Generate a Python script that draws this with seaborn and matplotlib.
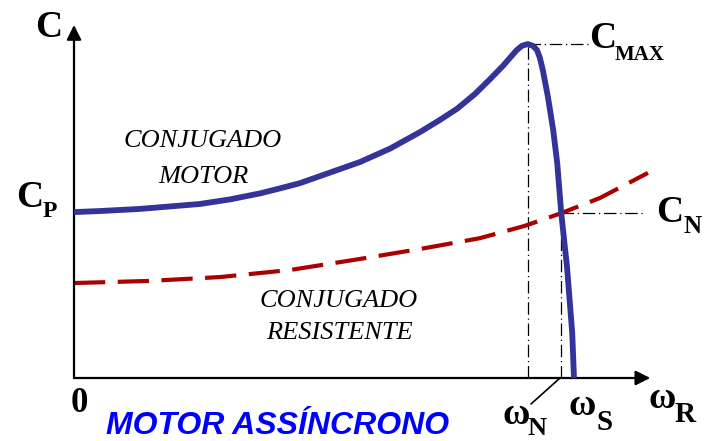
import matplotlib
matplotlib.use("Agg")
import matplotlib.pyplot as plt
import seaborn as sns
import numpy as np
import pandas as pd

# ---- data (speed %, torque %) ----
motor_speed = [0, 4.5, 11.4, 21.8, 27.0, 32.2, 35.6, 39.1, 44.3, 49.5, 54.7, 59.9, 63.3,
               66.3, 69.4, 72.0, 74.2, 76.6, 77.5, 78.5, 79.4, 80.1, 80.6, 81.1, 82.0,
               82.9, 83.6, 84.3, 85.3, 86.2, 86.5]
motor_torque = [47.0, 47.3, 47.9, 49.3, 50.6, 52.3, 53.7, 55.2, 58.2, 61.2, 65.0, 69.7, 73.1,
                76.3, 80.5, 84.7, 88.4, 92.9, 94.1, 94.6, 94.1, 92.9, 90.7, 87.3, 79.6,
                70.3, 60.9, 46.7, 31.4, 12.7, 0.0]
load_speed = [0, 13.1, 25.3, 37.4, 49.0, 60.4, 70.2, 78.0, 84.3, 91.0, 99.3]
load_torque = [26.9, 27.5, 28.6, 30.6, 33.6, 36.7, 39.6, 43.1, 46.7, 51.0, 58.1]

W, H = 706, 441
X0, Y0, X1, Y1 = 74, 378, 652, 25  # pixel frame of the axes

sns.set_theme(style="white")
plt.rcParams["font.family"] = ["Liberation Serif", "DejaVu Serif"]

fig = plt.figure(figsize=(W / 100, H / 100), dpi=100)
ax = fig.add_axes([X0 / W, (H - Y0) / H, (X1 - X0) / W, (Y0 - Y1) / H])
ax.set_xlim(0, 100)
ax.set_ylim(0, 100)
ax.axis("off")


def px(x, y):
    return ((x - X0) / (X1 - X0) * 100, (Y0 - y) / (Y0 - Y1) * 100)


motor = pd.DataFrame({"w": motor_speed, "c": motor_torque})
load = pd.DataFrame({"w": load_speed, "c": load_torque})

# reference dash-dot lines at peak and operating point
ipk = int(np.argmax(motor_torque))
pk_x, pk_y = motor_speed[ipk], motor_torque[ipk]
n_x, n_y = load_speed[8], load_torque[8]
dd = dict(color="black", lw=0.9, linestyle=(0, (10, 3, 1, 3)), zorder=1)
ax.plot([pk_x, pk_x], [0, pk_y], **dd)
ax.plot([pk_x, px(590, 0)[0]], [pk_y, pk_y], **dd)
ax.plot([n_x, n_x], [0, n_y], **dd)
ax.plot([n_x, px(646, 0)[0]], [n_y, n_y], **dd)

sns.lineplot(data=load, x="w", y="c", ax=ax, sort=False, color="#aa0000", lw=3,
             linestyle=(0, (7.5, 3)), zorder=3)
sns.lineplot(data=motor, x="w", y="c", ax=ax, sort=False, color="#333399", lw=4.2,
             zorder=4, solid_joinstyle="round", solid_capstyle="butt")

# axes with arrows
ap = dict(arrowstyle="-|>", mutation_scale=22, lw=1.6, color="black", shrinkA=0, shrinkB=0)
ax.annotate("", xy=(99.7, 0), xytext=(0, 0), arrowprops=ap, annotation_clip=False)
ax.annotate("", xy=(0, 100), xytext=(0, 0), arrowprops=ap, annotation_clip=False)

# omega_N leader line
ax.plot(*zip(px(560, 378), px(531, 404)), color="black", lw=1.2, clip_on=False)


def lab(x, y, s, size, **kw):
    ax.text(*px(x, y), s, fontsize=size, ha="left", va="baseline", fontweight="bold",
            color="black", clip_on=False, **kw)


lab(35, 37, "C", 27)
lab(16, 207, "C", 27)
lab(43, 217, "P", 17)
lab(589, 48, "C", 27)
lab(615, 60, "MAX", 15)
lab(656, 222, "C", 27)
lab(683, 233, "N", 18)
lab(71, 412, "0", 25)
lab(502, 424, "ω", 27)
lab(528, 435, "N", 19)
lab(569, 415, "ω", 27)
lab(596, 430, "S", 21)
lab(649, 408, "ω", 27)
lab(675, 422, "R", 21)

it = dict(fontstyle="italic", fontsize=19, color="black", ha="center", va="baseline",
          clip_on=False)
ax.text(*px(203, 147), "CONJUGADO", **it)
ax.text(*px(203, 183), "MOTOR", **it)
ax.text(*px(339, 307), "CONJUGADO", **it)
ax.text(*px(339, 339), "RESISTENTE", **it)

ax.text(*px(106, 434), "MOTOR ASSÍNCRONO", fontsize=23, fontweight="bold",
        fontstyle="italic", color="#0000ff", ha="left", va="baseline",
        family=["Liberation Sans", "DejaVu Sans"], clip_on=False)

fig.savefig("out.png", dpi=100)
